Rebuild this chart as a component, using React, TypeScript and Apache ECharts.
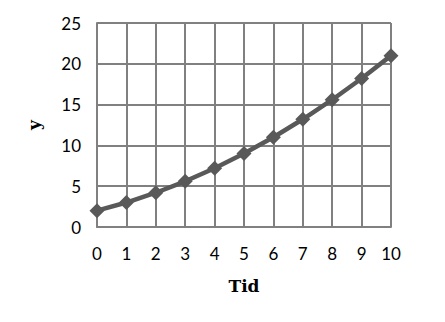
import React, { useEffect, useRef } from "react";
import * as echarts from "echarts";

const tid: number[] = [0, 1, 2, 3, 4, 5, 6, 7, 8, 9, 10];
const yValues: number[] = [2, 3, 4.2, 5.6, 7.2, 9, 11, 13.2, 15.6, 18.2, 21];
const xAxisName = "Tid";
const yAxisName = "y";

export default function App() {
  const ref = useRef<HTMLDivElement>(null);
  useEffect(() => {
    if (!ref.current) return;
    const chart = echarts.init(ref.current, null, { renderer: "svg" });
    const gridColor = "#808080";
    chart.setOption({
      animation: false,
      backgroundColor: "#ffffff",
      grid: { left: 97, right: 54, top: 23, bottom: 95, containLabel: false },
      xAxis: {
        type: "value",
        min: 0,
        max: 10,
        interval: 1,
        name: xAxisName,
        nameLocation: "middle",
        nameGap: 50,
        nameTextStyle: { fontFamily: "DejaVu Serif", fontWeight: "bold", fontSize: 17, color: "#000" },
        axisLine: { show: true, lineStyle: { color: gridColor, width: 2 } },
        axisTick: { show: false },
        axisLabel: { margin: 18, fontFamily: "Lato", fontSize: 17, color: "#000" },
        splitLine: { show: true, lineStyle: { color: gridColor, width: 2 } },
      },
      yAxis: {
        type: "value",
        min: 0,
        max: 25,
        interval: 5,
        name: yAxisName,
        nameLocation: "middle",
        nameGap: 55,
        nameRotate: 90,
        nameTextStyle: { fontFamily: "DejaVu Serif", fontWeight: "bold", fontSize: 17, color: "#000" },
        axisLine: { show: true, lineStyle: { color: gridColor, width: 2 } },
        axisTick: { show: false },
        axisLabel: { margin: 16, fontFamily: "Lato", fontSize: 17, color: "#000" },
        splitLine: { show: true, lineStyle: { color: gridColor, width: 2 } },
      },
      series: [
        {
          type: "line",
          data: tid.map((t, i) => [t, yValues[i]]),
          symbol: "diamond",
          symbolSize: 15,
          lineStyle: { color: "#595959", width: 4.5 },
          itemStyle: { color: "#595959" },
        },
      ],
    });
    return () => chart.dispose();
  }, []);
  return (
    <div
      ref={ref}
      style={{ position: "fixed", left: 0, top: 0, width: 445, height: 322, background: "#fff" }}
    />
  );
}
